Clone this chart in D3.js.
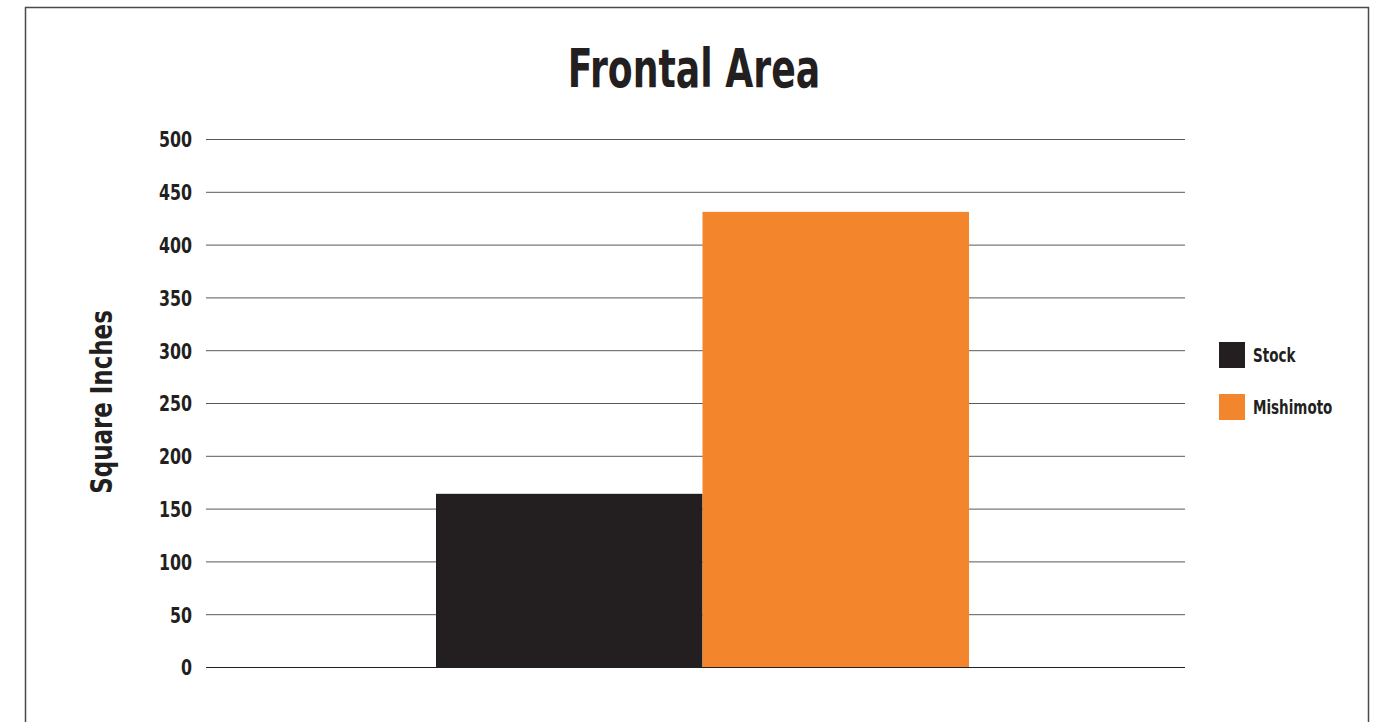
<!DOCTYPE html>
<html><head><meta charset="utf-8">
<script src="https://cdn.jsdelivr.net/npm/d3@7"></script>
<style>
body{margin:0;background:#fff;}
svg text{font-family:"DejaVu Sans Condensed","DejaVu Sans",sans-serif;font-weight:bold;fill:#231f20;}
</style></head><body>
<svg id="c" width="1385" height="722"></svg>
<script>
const title = "Frontal Area";
const yTitle = "Square Inches";
const categories = ["Frontal Area"];
const seriesNames = ["Stock", "Mishimoto"];
const seriesColors = ["#231f20", "#f3852c"];
const stockValues = [164];
const mishimotoValues = [431];
const yTicks = [0, 50, 100, 150, 200, 250, 300, 350, 400, 450, 500];

const svg = d3.select("#c");
// frame
svg.append("path").attr("d","M25.5,740 V7.5 H1368.5 V740")
  .attr("fill","none").attr("stroke","#4a4a4a").attr("stroke-width",1.5);

const plot = {left:206, right:1185, top:139, bottom:667};
const y = d3.scaleLinear().domain([0,500]).range([plot.bottom, plot.top]);
const x0 = d3.scaleBand().domain(categories).range([436, 969]).padding(0);
const x1 = d3.scaleBand().domain(seriesNames).range([0, x0.bandwidth()]).padding(0);
const color = d3.scaleOrdinal().domain(seriesNames).range(seriesColors);

// gridlines
const yAxis = d3.axisLeft(y).tickValues(yTicks).tickSize(-(plot.right-plot.left)).tickPadding(0).tickFormat(d3.format("d"));
const g = svg.append("g").attr("transform",`translate(${plot.left},0)`).call(yAxis);
g.select(".domain").remove();
g.selectAll(".tick line").attr("stroke","#5a5a5a").attr("stroke-width",1);
g.selectAll(".tick").filter(d=>d===0).select("line").attr("stroke","#231f20");
g.selectAll(".tick text").attr("x",null).attr("dy","0.36em").attr("font-size",22)
  .attr("transform","translate(-14,0) scale(0.8,1)")
  .style("font-family",'"DejaVu Sans Condensed","DejaVu Sans",sans-serif').style("font-weight","bold").attr("fill","#231f20");

// bars
const rows = categories.map((c,i)=>({cat:c, vals:[{k:"Stock",v:stockValues[i]},{k:"Mishimoto",v:mishimotoValues[i]}]}));
const grp = svg.selectAll("g.grp").data(rows).join("g").attr("class","grp")
  .attr("transform",d=>`translate(${x0(d.cat)},0)`);
grp.selectAll("rect").data(d=>d.vals).join("rect")
  .attr("x",d=>x1(d.k)).attr("width",x1.bandwidth())
  .attr("y",d=>y(d.v)).attr("height",d=>y(0)-y(d.v))
  .attr("fill",d=>color(d.k));

// title
svg.append("text").attr("transform","translate(694,87) scale(0.76,1)").attr("text-anchor","middle")
  .attr("font-size",53).text(title);
// y title
svg.append("text").attr("transform","translate(112,402) rotate(-90) scale(0.85,1)").attr("text-anchor","middle")
  .attr("font-size",30).text(yTitle);

// legend
const leg = svg.append("g").attr("transform","translate(1219,342)");
const li = leg.selectAll("g").data(seriesNames).join("g").attr("transform",(d,i)=>`translate(0,${i*52})`);
li.append("rect").attr("width",26).attr("height",26).attr("fill",d=>color(d));
li.append("text").attr("transform","translate(34,20) scale(0.79,1)").attr("font-size",19).text(d=>d);
</script>
</body></html>
